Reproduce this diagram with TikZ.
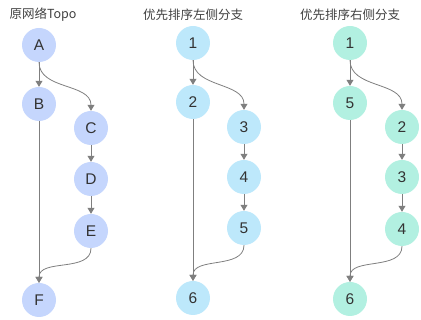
\documentclass[tikz,border=0pt]{standalone}
\usepackage{fontspec}
\setmainfont{Liberation Sans}
\newfontfamily\cjk{Noto Sans CJK SC}
\usepackage{xcolor}
\usetikzlibrary{arrows.meta}
\definecolor{topoblue}{HTML}{C5D6FD}
\definecolor{leftcyan}{HTML}{BDE8FB}
\definecolor{rightmint}{HTML}{B2F0E1}
\definecolor{linkgray}{HTML}{7F7F7F}
\definecolor{titlegray}{HTML}{404040}

\begin{document}
\begin{tikzpicture}[
  x=1pt, y=-1pt,
  hop/.style={
    circle, fill=#1, minimum size=34pt, inner sep=0pt,
    font=\fontsize{15.5}{16}\selectfont, text=black!80
  },
  heading/.style={font=\cjk\fontsize{12.5}{14}\selectfont, text=titlegray},
  link/.style={draw=linkgray, line width=0.8pt, -{Triangle[length=6pt,width=7pt]}},
]
\useasboundingbox (0,0) rectangle (421,320);

% Original topology
\node[heading] (t1) at (43,15) {原网络Topo};
\node[hop=topoblue] (a) at (39,45)  {A};
\node[hop=topoblue] (b) at (39,104) {B};
\node[hop=topoblue] (c) at (91,128) {C};
\node[hop=topoblue] (d) at (91,179) {D};
\node[hop=topoblue] (e) at (91,231) {E};
\node[hop=topoblue] (f) at (39,300) {F};

\draw[link] (a) -- (b);
\draw[link] (a.south) to[out=-90, in=90] (c.north);
\draw[link] (c) -- (d);
\draw[link] (d) -- (e);
\draw[link] (b) -- (f);
\draw[link] (e.south) to[out=-90, in=90] (f.north);

% Left branch first
\node[heading] (t2) at (193,15) {优先排序左侧分支};
\node[hop=leftcyan] (l1) at (193,43)  {1};
\node[hop=leftcyan] (l2) at (193,102) {2};
\node[hop=leftcyan] (l3) at (244,127) {3};
\node[hop=leftcyan] (l4) at (244,177) {4};
\node[hop=leftcyan] (l5) at (244,228) {5};
\node[hop=leftcyan] (l6) at (193,298) {6};

\draw[link] (l1) -- (l2);
\draw[link] (l1.south) to[out=-90, in=90] (l3.north);
\draw[link] (l3) -- (l4);
\draw[link] (l4) -- (l5);
\draw[link] (l2) -- (l6);
\draw[link] (l5.south) to[out=-90, in=90] (l6.north);

% Right branch first
\node[heading] (t3) at (350,15) {优先排序右侧分支};
\node[hop=rightmint] (r1) at (350,43)  {1};
\node[hop=rightmint] (r5) at (350,103) {5};
\node[hop=rightmint] (r2) at (402,127) {2};
\node[hop=rightmint] (r3) at (402,177) {3};
\node[hop=rightmint] (r4) at (402,229) {4};
\node[hop=rightmint] (r6) at (350,299) {6};

\draw[link] (r1) -- (r5);
\draw[link] (r1.south) to[out=-90, in=90] (r2.north);
\draw[link] (r2) -- (r3);
\draw[link] (r3) -- (r4);
\draw[link] (r5) -- (r6);
\draw[link] (r4.south) to[out=-90, in=90] (r6.north);

\end{tikzpicture}
\end{document}
